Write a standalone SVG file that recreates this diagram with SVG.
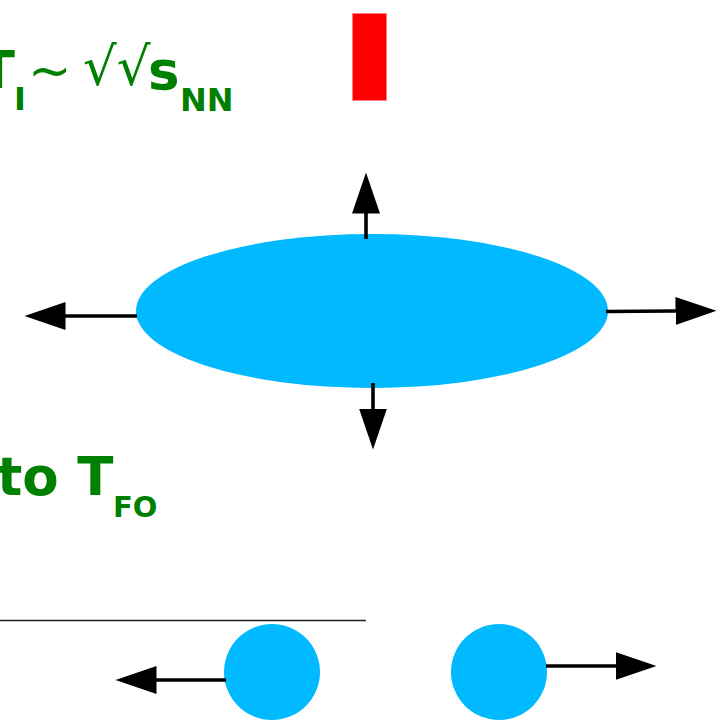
<svg xmlns="http://www.w3.org/2000/svg" width="721" height="723" viewBox="0 0 721 723">
<style>
.t{font-family:"DejaVu Sans",sans-serif;font-weight:bold;fill:#008000}
.r{font-family:"DejaVu Sans",sans-serif;font-weight:normal;fill:#008000}
.blob{fill:#00B9FF}
.ar{stroke:#000;stroke-width:3.6;fill:none}
</style>
<defs>
<marker id="h" markerUnits="userSpaceOnUse" markerWidth="42" markerHeight="30" refX="0.5" refY="14" orient="auto">
<path d="M0,0 L41,14 L0,28 Z" fill="#000"/>
</marker>
</defs>
<g id="title1">
<text class="t" x="15" y="88" font-size="52" text-anchor="end">T</text>
<text class="t" x="14" y="110" font-size="32">I</text>
<text class="r" x="28" y="88" font-size="52">~</text>
<text class="r" x="83" y="85" font-size="53">√√</text>
<text class="t" x="148" y="89" font-size="53">s</text>
<text class="t" x="180" y="111" font-size="32">NN</text>
</g>
<g id="title2">
<text class="t" x="-3" y="495" font-size="53">to T</text>
<text class="t" x="113" y="517" font-size="29">FO</text>
</g>
<g id="bar"><rect x="352.5" y="13.5" width="34" height="87" fill="#ff0000" stroke="#ff8080" stroke-width="1"/></g>
<g id="fireball"><ellipse class="blob" cx="372" cy="311" rx="236" ry="77"/></g>
<g id="hadron1"><circle class="blob" cx="272" cy="672" r="48"/></g>
<g id="hadron2"><circle class="blob" cx="499" cy="672" r="48"/></g>
<g id="line"><line x1="0" y1="620.5" x2="366" y2="620.5" stroke="#222" stroke-width="1.3"/></g>
<g id="connectors">
<line class="ar" x1="366" y1="239" x2="366" y2="213" marker-end="url(#h)"/>
<line class="ar" x1="137" y1="316" x2="65" y2="316" marker-end="url(#h)"/>
<line class="ar" x1="606" y1="311.5" x2="676" y2="311" marker-end="url(#h)"/>
<line class="ar" x1="373" y1="383" x2="373" y2="409" marker-end="url(#h)"/>
<line class="ar" x1="226" y1="680" x2="156" y2="680" marker-end="url(#h)"/>
<line class="ar" x1="546" y1="666" x2="616" y2="666" marker-end="url(#h)"/>
</g>
</svg>
